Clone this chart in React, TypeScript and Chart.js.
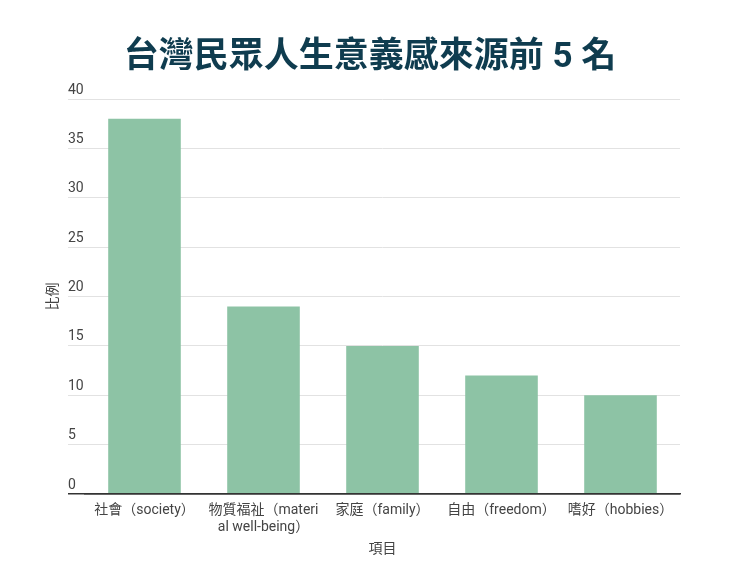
import React, { useEffect, useRef } from "react";
import { Chart, registerables } from "chart.js";

Chart.register(...registerables);

const TITLE = "台灣民眾人生意義感來源前 5 名";
const X_TITLE = "項目";
const Y_TITLE = "比例";
const categories: (string | string[])[] = [
  "社會（society）",
  ["物質福祉（materi", "al well-being）"],
  "家庭（family）",
  "自由（freedom）",
  "嗜好（hobbies）",
];
const values = [38, 19, 15, 12, 10];
const Y_MIN = 0;
const Y_MAX = 40;
const Y_STEP = 5;

const FONT = "Roboto, 'Noto Sans CJK TC', sans-serif";
const BAR_COLOR = "#8dc3a5";
const TEXT_COLOR = "#444444";

export default function App() {
  const ref = useRef<HTMLCanvasElement | null>(null);

  useEffect(() => {
    if (!ref.current) return;
    const chart = new Chart(ref.current, {
      type: "bar",
      data: {
        labels: categories,
        datasets: [
          {
            data: values,
            backgroundColor: BAR_COLOR,
            borderWidth: 0,
            barPercentage: 0.61,
            categoryPercentage: 1,
          },
        ],
      },
      options: {
        responsive: true,
        maintainAspectRatio: false,
        animation: false,
        layout: { padding: 0 },
        plugins: {
          legend: { display: false },
          tooltip: { enabled: false },
          title: {
            display: true,
            text: TITLE,
            color: "#0f3c4f",
            font: { family: FONT, size: 35, weight: "bold", lineHeight: 1.2 },
            padding: { top: 29, bottom: 20 },
          },
        },
        scales: {
          x: {
            grid: { display: false, drawTicks: false },
            border: { display: true, color: "#333333", width: 1.5, z: 1 },
            ticks: {
              color: TEXT_COLOR,
              font: { family: FONT, size: 14, lineHeight: 1.2 },
              padding: 8,
              autoSkip: false,
              maxRotation: 0,
              minRotation: 0,
            },
            title: {
              display: true,
              text: X_TITLE,
              color: TEXT_COLOR,
              font: { family: FONT, size: 14, lineHeight: 1.2 },
              padding: { top: 4, bottom: 14.6 },
            },
            afterFit: (s: any) => {
              s.height = 78;
            },
          },
          y: {
            min: Y_MIN,
            max: Y_MAX,
            grid: {
              color: (c: any) => (c.tick && c.tick.value === 0 ? "#333333" : "#e2e2e2"),
              lineWidth: (c: any) => (c.tick && c.tick.value === 0 ? 1.5 : 1),
              tickLength: 17,
              drawTicks: true,
            },
            border: { display: false },
            ticks: {
              stepSize: Y_STEP,
              mirror: true,
              padding: -17,
              labelOffset: -9,
              color: TEXT_COLOR,
              font: { family: FONT, size: 14 },
            },
            title: {
              display: true,
              text: Y_TITLE,
              color: TEXT_COLOR,
              font: { family: FONT, size: 14, lineHeight: 1.2 },
              padding: { top: 37, bottom: 0 },
            },
            afterFit: (s: any) => {
              s.width = 77;
            },
          },
          spacer: {
            type: "linear",
            position: "right",
            display: true,
            grid: { display: false, drawTicks: false },
            border: { display: false },
            ticks: { display: false },
            afterFit: (s: any) => {
              s.width = 52;
            },
          },
        },
      } as any,
    });
    return () => chart.destroy();
  }, []);

  return (
    <div style={{ position: "relative", width: 724, height: 564 }}>
      <canvas ref={ref} />
    </div>
  );
}
